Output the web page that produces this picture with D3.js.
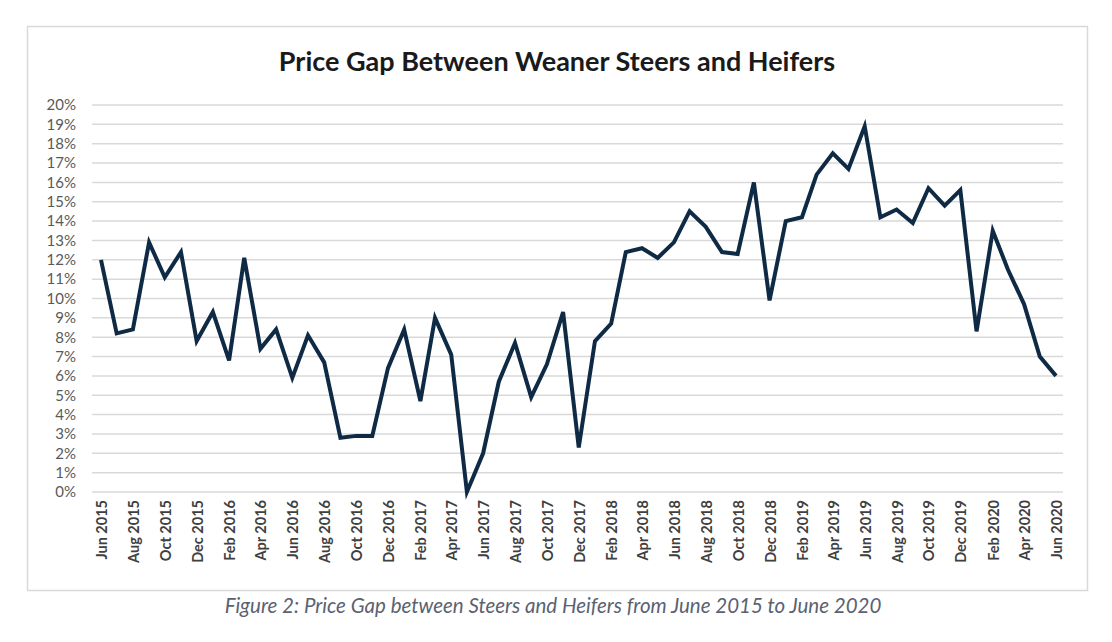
<!DOCTYPE html>
<html>
<head>
<meta charset="utf-8">
<script src="https://cdn.jsdelivr.net/npm/d3@7"></script>
<style>
  body { margin: 0; background: #fff; }
  svg { display: block; }
</style>
</head>
<body>
<svg id="chart" width="1112" height="642"></svg>
<script>
// monthly price gap, Jun 2015 .. Jun 2020 (percent)
const startMonth = new Date(2015, 5, 1);
const gapValues = [
  12.0, 8.2, 8.4, 12.9, 11.1, 12.4, 7.8,
  9.3, 6.8, 12.1, 7.4, 8.4, 5.9, 8.1, 6.7, 2.8, 2.9, 2.9, 6.4,
  8.4, 4.7, 9.0, 7.1, 0.0, 2.0, 5.7, 7.7, 4.9, 6.6, 9.3, 2.3,
  7.8, 8.7, 12.4, 12.6, 12.1, 12.9, 14.5, 13.7, 12.4, 12.3, 16.0, 9.9,
  14.0, 14.2, 16.4, 17.5, 16.7, 18.9, 14.2, 14.6, 13.9, 15.7, 14.8, 15.6,
  8.3, 13.5, 11.5, 9.7, 7.0, 6.0
];
const yTicks = d3.range(0, 21, 1);
const titleText = 'Price Gap Between Weaner Steers and Heifers';
const captionText = 'Figure 2: Price Gap between Steers and Heifers from June 2015 to June 2020';

const months = gapValues.map((v, i) => d3.timeMonth.offset(startMonth, i));
const xTickDates = months.filter((d, i) => i % 2 === 0);

const svg = d3.select('#chart');

// chart frame
svg.append('rect')
  .attr('x', 27.5).attr('y', 26.5)
  .attr('width', 1060).attr('height', 564)
  .attr('fill', '#fff')
  .attr('stroke', '#d9d9d9')
  .attr('stroke-width', 1.5);

const x = d3.scaleTime()
  .domain([months[0], months[months.length - 1]])
  .range([101, 1056]);
const y = d3.scaleLinear()
  .domain([0, 20])
  .range([492, 105]);

// gridlines
svg.append('g')
  .selectAll('line')
  .data(yTicks)
  .join('line')
  .attr('x1', 92).attr('x2', 1063)
  .attr('y1', d => y(d)).attr('y2', d => y(d))
  .attr('stroke', '#d9d9d9')
  .attr('stroke-width', 1.5);

// y axis labels
const yAxis = d3.axisLeft(y)
  .tickValues(yTicks)
  .tickFormat(d => d + '%')
  .tickSize(0)
  .tickPadding(0);
svg.append('g')
  .attr('transform', 'translate(76,0)')
  .call(yAxis)
  .call(g => g.select('.domain').remove())
  .selectAll('text')
  .attr('font-family', 'Lato, "Open Sans", sans-serif')
  .attr('font-size', 15)
  .attr('fill', '#595959');

// x axis labels (rotated)
const xAxis = d3.axisBottom(x)
  .tickValues(xTickDates)
  .tickFormat(d3.timeFormat('%b %Y'))
  .tickSize(0)
  .tickPadding(0);
svg.append('g')
  .attr('transform', 'translate(0,500)')
  .call(xAxis)
  .call(g => g.select('.domain').remove())
  .selectAll('text')
  .attr('font-family', 'Lato, "Open Sans", sans-serif')
  .attr('font-size', 14.5)
  .attr('font-weight', 'bold')
  .attr('fill', '#404040')
  .attr('text-anchor', 'end')
  .attr('dy', null)
  .attr('y', 0)
  .attr('x', 0)
  .attr('dominant-baseline', 'central')
  .attr('transform', 'rotate(-90)');

// the line
const line = d3.line()
  .x((d, i) => x(months[i]))
  .y(d => y(d));
svg.append('path')
  .datum(gapValues)
  .attr('d', line)
  .attr('fill', 'none')
  .attr('stroke', '#0f2a44')
  .attr('stroke-width', 4)
  .attr('stroke-linejoin', 'miter')
  .attr('stroke-miterlimit', 4);

// title
svg.append('text')
  .attr('x', 557).attr('y', 71)
  .attr('text-anchor', 'middle')
  .attr('font-family', 'Lato, "Open Sans", sans-serif')
  .attr('font-weight', 'bold')
  .attr('font-size', 27)
  .attr('fill', '#1a1a1a')
  .text(titleText);

// caption
svg.append('text')
  .attr('x', 553).attr('y', 613)
  .attr('text-anchor', 'middle')
  .attr('font-family', 'Lato, "Open Sans", sans-serif')
  .attr('font-style', 'italic')
  .attr('font-size', 20.5)
  .attr('fill', '#5a6272')
  .text(captionText);
</script>
</body>
</html>
